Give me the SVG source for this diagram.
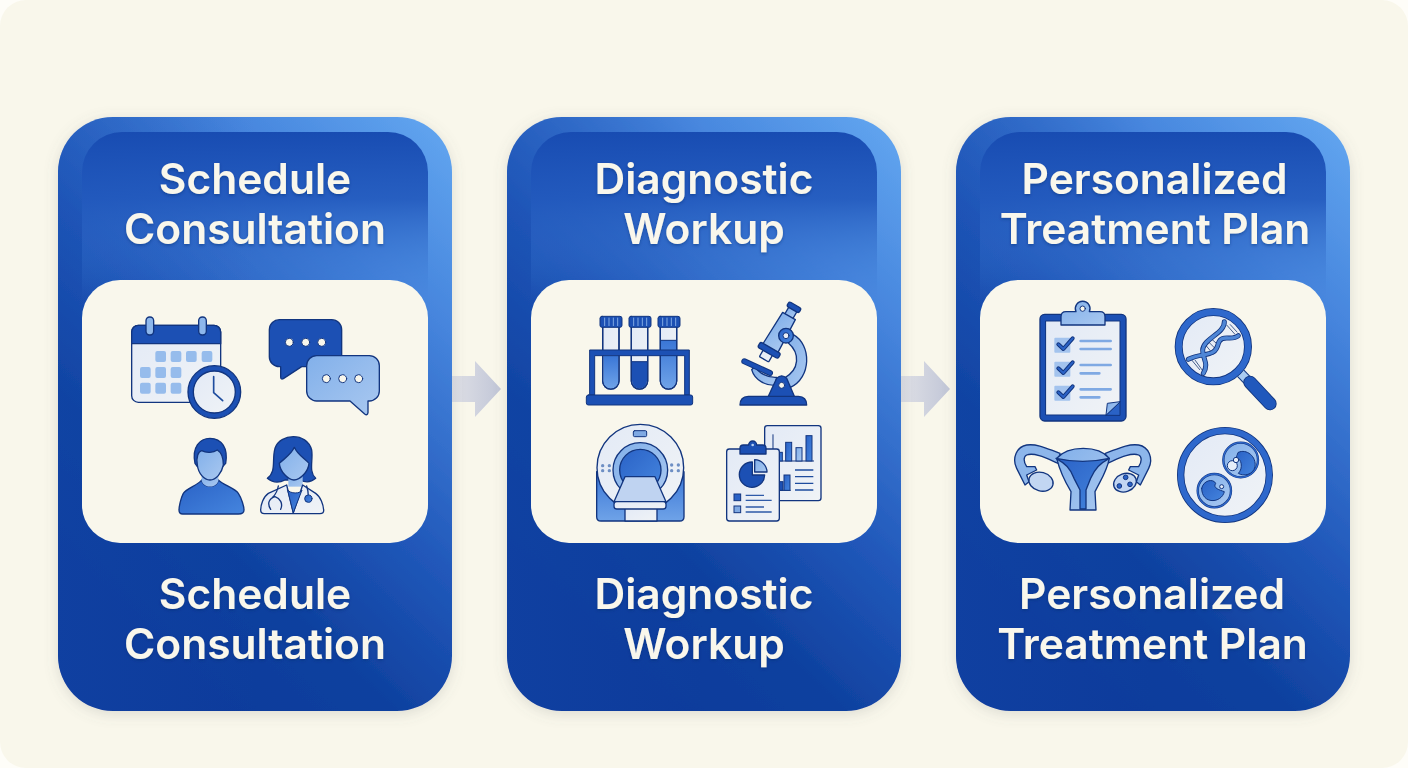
<svg xmlns="http://www.w3.org/2000/svg" width="1408" height="768" viewBox="0 0 1408 768">
<defs>
<linearGradient id="cardG" x1="1" y1="0.02" x2="0.38" y2="1"><stop offset="0" stop-color="#62A6F0"/><stop offset="0.25" stop-color="#4685DD"/><stop offset="0.55" stop-color="#2158BA"/><stop offset="0.78" stop-color="#0F419F"/><stop offset="1" stop-color="#0B3A9B"/></linearGradient>
<linearGradient id="leftShade" x1="0" y1="0" x2="1" y2="0"><stop offset="0" stop-color="#164BAE" stop-opacity=".3"/><stop offset=".5" stop-color="#164BAE" stop-opacity="0"/></linearGradient>
<linearGradient id="topG" x1="0" y1="0" x2="0" y2="1"><stop offset="0" stop-color="#184CB2"/><stop offset="0.4" stop-color="#2259BD" stop-opacity=".9"/><stop offset="1" stop-color="#3E7AD3" stop-opacity="0"/></linearGradient>
<linearGradient id="arrowG" x1="0" y1="0" x2="1" y2="0"><stop offset="0" stop-color="#DFE0E6"/><stop offset="1" stop-color="#C1C6D7"/></linearGradient>
<linearGradient id="midG" x1="0" y1="0" x2="1" y2="1"><stop offset="0" stop-color="#2A62C6"/><stop offset="1" stop-color="#4585DE"/></linearGradient>
<linearGradient id="softG" x1="0" y1="0" x2="0" y2="1"><stop offset="0" stop-color="#3A76D6"/><stop offset="1" stop-color="#6FA3E8"/></linearGradient>
<linearGradient id="lightG" x1="0" y1="0" x2="1" y2="1"><stop offset="0" stop-color="#82B0EA"/><stop offset="1" stop-color="#A9C8F0"/></linearGradient>
<linearGradient id="paleG" x1="0" y1="0" x2="1" y2="1"><stop offset="0" stop-color="#E3EAF6"/><stop offset="1" stop-color="#F0F3F6"/></linearGradient>
<filter id="cardShadow" x="-10%" y="-10%" width="120%" height="120%"><feDropShadow dx="0" dy="3" stdDeviation="7" flood-color="#6B6F70" flood-opacity=".2"/></filter>
<filter id="textShadow" x="-5%" y="-10%" width="110%" height="125%"><feDropShadow dx="0" dy="1.500" stdDeviation="1.500" flood-color="#0A2A70" flood-opacity=".45"/></filter>
<g id="cardBase">
<rect x="58" y="117" width="394" height="594" rx="55" fill="url(#cardG)" filter="url(#cardShadow)"/>
<rect x="58" y="117" width="394" height="594" rx="55" fill="url(#leftShade)"/>
<path d="M82 300V172a40 40 0 0 1 40-40H388a40 40 0 0 1 40 40V300Z" fill="url(#topG)"/>
<rect x="82" y="280" width="346" height="263" rx="38" fill="#F9F7EC"/>
</g>
<polygon id="arrowShape" points="452,376 475,376 475,361 501,389 475,417 475,402 452,402" fill="url(#arrowG)"/>
<path id="tube" d="M180 475C150 465 115 445 80 450C50 455 35 490 50 520L75 570L87 560L80 540L110 525L105 515L80 515C70 500 70 485 80 480C105 470 150 495 175 505Z"/>
</defs>
<style>
.t{font-family:Inter,"Liberation Sans",sans-serif;font-weight:600;font-size:42.500px;fill:#F9F7EC;text-anchor:middle;filter:url(#textShadow)}
.o{stroke:#12357F;stroke-width:4;stroke-linejoin:round;stroke-linecap:round}
.s{stroke-width:3}
.d{fill:#1C50B4}.m{fill:url(#midG)}.u{fill:url(#softG)}.l{fill:url(#lightG)}.p{fill:url(#paleG)}.n{fill:none}.w{fill:#F9F7EC}
.lb{stroke:#7FA9E3;stroke-width:8;stroke-linecap:round;fill:none}
</style>
<rect width="1408" height="768" fill="#FEFDF8"/>
<rect width="1408" height="768" rx="26" fill="#F9F7EB"/>

<g id="connectors">
<use href="#arrowShape"/>
<use href="#arrowShape" x="449"/>
</g>

<g id="node-schedule">
<use href="#cardBase"/>
<text class="t" x="255" y="194">Schedule</text>
<text class="t" x="255" y="244">Consultation</text>
<text class="t" x="255" y="609">Schedule</text>
<text class="t" x="255" y="659">Consultation</text>
<g transform="translate(110 300) scale(.33333)">
<!-- calendar -->
<rect class="o p" x="65" y="76" width="267" height="231" rx="20"/>
<path class="o d" d="M65 131V96a20 20 0 0 1 20-20H312a20 20 0 0 1 20 20V131Z"/>
<rect class="o" x="108" y="51" width="23" height="54" rx="11" fill="#8DB7EC"/>
<rect class="o" x="266" y="51" width="23" height="54" rx="11" fill="#8DB7EC"/>
<g fill="#96BCEC"><rect x="136" y="153" width="32" height="33" rx="6"/><rect x="182" y="153" width="32" height="33" rx="6"/><rect x="228" y="153" width="32" height="33" rx="6"/><rect x="275" y="153" width="32" height="33" rx="6"/><rect x="90" y="201" width="32" height="33" rx="6"/><rect x="136" y="201" width="32" height="33" rx="6"/><rect x="182" y="201" width="32" height="33" rx="6"/><rect x="90" y="248" width="32" height="33" rx="6"/><rect x="136" y="248" width="32" height="33" rx="6"/><rect x="182" y="248" width="32" height="33" rx="6"/></g>
<circle class="o d" cx="313" cy="276" r="79"/>
<circle class="o p" cx="313" cy="276" r="63"/>
<path d="M311 230V278L338 302" fill="none" stroke="#1E4C9E" stroke-width="5" stroke-linecap="round" stroke-linejoin="round"/>
<!-- chat -->
<path class="o d" d="M510 59H665a30 30 0 0 1 30 30V170a30 30 0 0 1-30 30H575L520 236Q512 240 512 230V200H508a30 30 0 0 1-30-30V89a30 30 0 0 1 31-30Z"/>
<path class="o l" d="M620 167H778a30 30 0 0 1 30 30V273a30 30 0 0 1-30 30H774V338Q772 348 764 342L720 303H620a30 30 0 0 1-30-30V197a30 30 0 0 1 30-30Z"/>
<g class="o s w"><circle cx="538" cy="127" r="12"/><circle cx="587" cy="127" r="12"/><circle cx="635" cy="127" r="12"/><circle cx="649" cy="236" r="12"/><circle cx="698" cy="236" r="12"/><circle cx="746" cy="236" r="12"/></g>
<!-- man -->
<path class="o m" d="M275 540C265 555 230 565 220 580C212 595 207 620 207 630Q207 642 218 642H385Q402 642 402 630C402 620 395 595 385 580C375 565 340 555 325 540C320 565 280 565 275 540Z"/>
<path class="l" d="M275 525V542C280 565 320 565 325 542V525Z"/>
<path class="o d" d="M255 490C245 440 270 415 300 415C335 415 355 445 347 490L338 500H262Z"/>
<path class="o l" d="M262 495C258 470 265 455 275 452C290 460 310 458 322 450C335 458 340 475 340 495C335 520 318 540 300 540C282 540 265 520 262 495Z"/>
<!-- doctor -->
<path class="o d" d="M472 535C500 515 485 480 495 445C510 400 590 395 605 450C610 480 595 515 617 535C600 550 580 545 570 540H525C510 548 490 550 472 535Z"/>
<path class="l" d="M535 520V560H578V520Z"/>
<path class="o p" d="M530 555L475 580C460 590 452 615 452 630Q452 641 463 641H630Q642 641 641 630C640 615 632 590 617 580L578 555L550 638Z"/>
<path class="o m s" d="M533 570C540 582 572 582 576 570L550 638Z"/>
<path class="o l" d="M508 490C523 475 543 465 553 442C563 465 583 475 597 490C595 515 570 540 552 540C535 540 510 515 508 490Z"/>
<path class="n" d="M505 558C502 575 495 585 488 592M482 628C470 610 478 595 495 590C510 595 520 610 512 628M590 558C595 572 595 582 595 590" stroke="#12357F" stroke-width="4" stroke-linecap="round"/>
<circle class="o m s" cx="595" cy="596" r="11"/>
</g>
</g>

<g id="node-diagnostic">
<use href="#cardBase" x="449"/>
<text class="t" x="704" y="194">Diagnostic</text>
<text class="t" x="704" y="244">Workup</text>
<text class="t" x="704" y="609">Diagnostic</text>
<text class="t" x="704" y="659">Workup</text>
<g transform="translate(560 295) scale(.33333)">
<!-- tubes -->
<path class="o p" d="M128 92V258a24 24 0 0 0 49 0V92Z"/>
<path class="u" d="M130 182H175V258a22 22 0 0 1-45 0Z"/>
<path class="o n" d="M128 92V258a24 24 0 0 0 49 0V92"/>
<path class="o p" d="M214 92V258a24 24 0 0 0 49 0V92Z"/>
<path class="d" d="M216 200H261V258a22 22 0 0 1-45 0Z"/><path stroke="#12357F" stroke-width="3" d="M216 200H261"/>
<path class="o n" d="M214 92V258a24 24 0 0 0 49 0V92"/>
<path class="o p" d="M301 92V258a24 24 0 0 0 49 0V92Z"/>
<path class="u" d="M303 136H348V258a22 22 0 0 1-45 0Z"/><path stroke="#12357F" stroke-width="3" d="M303 136H348"/>
<path class="o n" d="M301 92V258a24 24 0 0 0 49 0V92"/>
<g class="o s d"><rect x="120" y="64" width="66" height="33" rx="6"/><rect x="207" y="64" width="66" height="33" rx="6"/><rect x="294" y="64" width="66" height="33" rx="6"/></g>
<path d="M134 68V93M147 68V93M160 68V93M173 68V93M221 68V93M234 68V93M247 68V93M260 68V93M308 68V93M321 68V93M334 68V93M347 68V93" stroke="#7FA9E3" stroke-width="3"/>
<path class="o s d" d="M90 165H388V300H374V182H104V300H90Z"/>
<rect class="o s d" x="79" y="300" width="319" height="30" rx="6"/>
<!-- microscope -->
<path class="o l" d="M700 119C755 149 755 249 690 278L672 250C720 224 720 174 685 144Z"/>
<path class="o l" d="M575 224C585 259 620 271 645 271L650 247C625 249 595 234 585 214Z"/>
<path class="o d" d="M540 330Q540 305 565 304H715Q740 305 740 330Z"/>
<path class="o d" d="M625 304L650 250Q665 235 680 250L703 304Z"/>
<circle class="o s w" cx="665" cy="271" r="9"/>
<path d="M553 199L630 234" stroke="#12357F" stroke-width="18" stroke-linecap="round"/>
<path d="M553 199L630 234" stroke="#1C50B4" stroke-width="12" stroke-linecap="round"/>
<g transform="translate(702 37) rotate(30)">
<rect class="o l" x="-14" y="6" width="28" height="26"/>
<path class="o l" d="M-22 30H22L26 142H-26Z"/>
<rect class="o p" x="-16" y="156" width="32" height="24" rx="3"/>
<rect class="o d" x="-35" y="140" width="70" height="18" rx="6"/>
<rect class="o d" x="-21" y="-8" width="42" height="16" rx="6"/>
</g>
<circle class="o m" cx="678" cy="122" r="22"/>
<circle class="o s p" cx="678" cy="122" r="9"/>
<!-- MRI -->
<path class="o u" d="M110 530V665Q110 678 123 678H359Q372 678 372 665V530Z"/>
<circle class="o p" cx="241" cy="518" r="130"/>
<rect class="o s" x="220" y="407" width="40" height="18" rx="4" fill="#7FA9E3"/>
<circle class="o l" cx="241" cy="525" r="82"/>
<circle class="o m" cx="241" cy="525" r="62"/>
<g fill="#6E8FC4"><circle cx="128" cy="512" r="5"/><circle cx="148" cy="512" r="5"/><circle cx="128" cy="527" r="5"/><circle cx="148" cy="527" r="5"/><circle cx="335" cy="510" r="5"/><circle cx="355" cy="510" r="5"/><circle cx="335" cy="527" r="5"/><circle cx="355" cy="527" r="5"/></g>
<rect class="o p" x="195" y="640" width="96" height="38"/>
<path class="o" fill="#BFD3F1" d="M195 545H285L318 620H162Z"/>
<rect class="o p" x="162" y="620" width="156" height="22" rx="8"/>
<!-- report -->
<rect class="o p" x="614" y="392" width="169" height="225" rx="8"/>
<path d="M639 418V498M655 498H762M660 586H692" stroke="#12357F" stroke-width="3" fill="none"/>
<g stroke="#12357F" stroke-width="3"><rect class="m" x="677" y="442" width="18" height="56"/><rect class="l" x="708" y="458" width="18" height="40"/><rect class="m" x="738" y="422" width="18" height="76"/><rect class="m" x="655" y="472" width="12" height="26"/><rect class="m" x="672" y="540" width="18" height="46"/><rect class="d" x="655" y="560" width="14" height="26"/></g>
<path d="M705 525H760M705 545H760M705 565H760M705 585H760" stroke="#1E4C9E" stroke-width="4"/>
<rect class="o p" x="500" y="462" width="158" height="216" rx="8"/>
<path class="o d" d="M540 477V460Q540 450 550 450H566a12 12 0 0 1 24 0H608Q618 450 618 460V477Z"/>
<circle cx="578" cy="450" r="4" fill="#B6CEF0"/>
<path class="o d" d="M577 501A38 38 0 1 0 614 540H577Z"/>
<path class="o l" d="M584 494A38 38 0 0 1 621 531H584Z"/>
<rect x="522" y="597" width="20" height="20" fill="#2A62C6" stroke="#12357F" stroke-width="3"/>
<rect x="522" y="633" width="20" height="20" fill="#7FA9E3" stroke="#12357F" stroke-width="3"/>
<path d="M557 601H612M557 616H635M557 636H612M557 651H635" stroke="#2E5AA8" stroke-width="4"/>
</g>
</g>

<g id="node-plan">
<use href="#cardBase" x="898"/>
<text class="t" x="1154.500" y="194">Personalized</text>
<text class="t" x="1155" y="244">Treatment Plan</text>
<text class="t" x="1152" y="609">Personalized</text>
<text class="t" x="1152.500" y="659">Treatment Plan</text>
<g transform="translate(1000 295) scale(.33333)">
<!-- clipboard -->
<rect class="o d" x="120" y="58" width="258" height="320" rx="14"/>
<path class="o s p" d="M138 78H360V320L318 360H138Z"/>
<path class="o s" fill="#2A62C6" d="M318 360L360 320V360Z"/>
<path class="o s l" d="M318 360L322 325L360 320Z"/>
<path class="o l" d="M183 90V65Q183 50 198 50H228A22 22 0 1 1 268 50H300Q315 50 315 65V90Z"/>
<circle class="o s w" cx="248" cy="41" r="8"/>
<g fill="#A3C3EE"><rect x="163" y="128" width="48" height="45" rx="3"/><rect x="163" y="200" width="48" height="45" rx="3"/><rect x="163" y="272" width="48" height="45" rx="3"/></g>
<g fill="none" stroke-linecap="round" stroke-linejoin="round"><path stroke="#12357F" stroke-width="12" d="M175 148L190 162L218 130M175 220L190 234L218 202M175 292L190 306L218 274"/><path stroke="#2A62C6" stroke-width="6" d="M175 148L190 162L218 130M175 220L190 234L218 202M175 292L190 306L218 274"/></g>
<path class="lb" d="M242 138H332M242 162H332M242 210H332M242 235H298M242 283H332M242 307H298"/>
<!-- magnifier -->
<path d="M722 235L748 262" stroke="#12357F" stroke-width="30"/>
<path d="M722 235L748 262" stroke="#A9CBF1" stroke-width="24"/>
<path d="M750 262L810 326" stroke="#12357F" stroke-width="40" stroke-linecap="round"/>
<path d="M750 262L810 326" stroke="#2058BC" stroke-width="35" stroke-linecap="round"/>
<circle class="p" cx="640" cy="155" r="100"/>
<circle cx="640" cy="155" r="104" fill="none" stroke="#12357F" stroke-width="24"/>
<circle cx="640" cy="155" r="104" fill="none" stroke="#2E68CC" stroke-width="19"/>
<path d="M680 90L705 118M690 88L712 112M615 148L640 178M623 138L650 165M632 130L655 150M585 195L610 230M575 195L600 225" stroke="#475F8C" stroke-width="3" fill="none"/>
<g fill="none" stroke-linecap="round"><g stroke="#12357F" stroke-width="15"><path d="M673 80C675 115 610 130 608 165C607 190 628 205 610 235"/><path d="M715 122C695 140 665 115 655 145C645 190 610 170 565 193"/></g><g stroke="#4E86D6" stroke-width="10"><path d="M673 80C675 115 610 130 608 165C607 190 628 205 610 235"/><path d="M715 122C695 140 665 115 655 145C645 190 610 170 565 193"/></g></g>
<!-- uterus -->
<use href="#tube" class="o" fill="#8DB6EB"/>
<use href="#tube" class="o" fill="#8DB6EB" transform="translate(496 0) scale(-1 1)"/>
<ellipse class="o" cx="123" cy="560" rx="37" ry="28" transform="rotate(15 123 560)" fill="#C2D6F2"/>
<ellipse class="o" cx="375" cy="563" rx="35" ry="27" transform="rotate(-20 375 563)" fill="#C2D6F2"/>
<g fill="#2A62C6" stroke="#12357F" stroke-width="3"><circle cx="377" cy="547" r="7"/><circle cx="358" cy="573" r="7"/><circle cx="390" cy="568" r="7"/></g>
<path class="o l" d="M170 490C205 450 295 450 328 490C320 530 305 550 285 590L288 645H210L213 590C195 560 180 530 170 490Z"/>
<path class="o m" d="M168 490Q248 508 328 490C300 505 285 520 272 550L258 585V642H240V585L222 550C212 520 195 505 168 490Z"/>
<!-- cells -->
<circle class="p" cx="675" cy="540" r="130"/>
<circle cx="675" cy="540" r="133" fill="none" stroke="#12357F" stroke-width="22"/>
<circle cx="675" cy="540" r="133" fill="none" stroke="#2E68CC" stroke-width="17"/>
<circle class="l" cx="722" cy="495" r="52" stroke="#12357F" stroke-width="7"/>
<circle cx="722" cy="495" r="52" fill="none" stroke="#2E68CC" stroke-width="4"/>
<path class="o s m" d="M715 472C740 460 770 485 765 515C760 540 730 545 715 535C730 520 725 490 710 488Z"/>
<circle cx="697" cy="512" r="15" fill="#E6EEF9" stroke="#12357F" stroke-width="3"/>
<circle cx="708" cy="495" r="8" fill="#E6EEF9" stroke="#12357F" stroke-width="3"/>
<circle class="l" cx="643" cy="587" r="50" stroke="#12357F" stroke-width="7"/>
<circle cx="643" cy="587" r="50" fill="none" stroke="#2E68CC" stroke-width="4"/>
<path class="o s m" d="M605 580C610 555 640 550 647 565C637 580 660 585 673 590C665 625 605 630 605 580Z"/>
<circle cx="665" cy="575" r="6" fill="#E6EEF9" stroke="#12357F" stroke-width="3"/>
</g>
</g>
</svg>
